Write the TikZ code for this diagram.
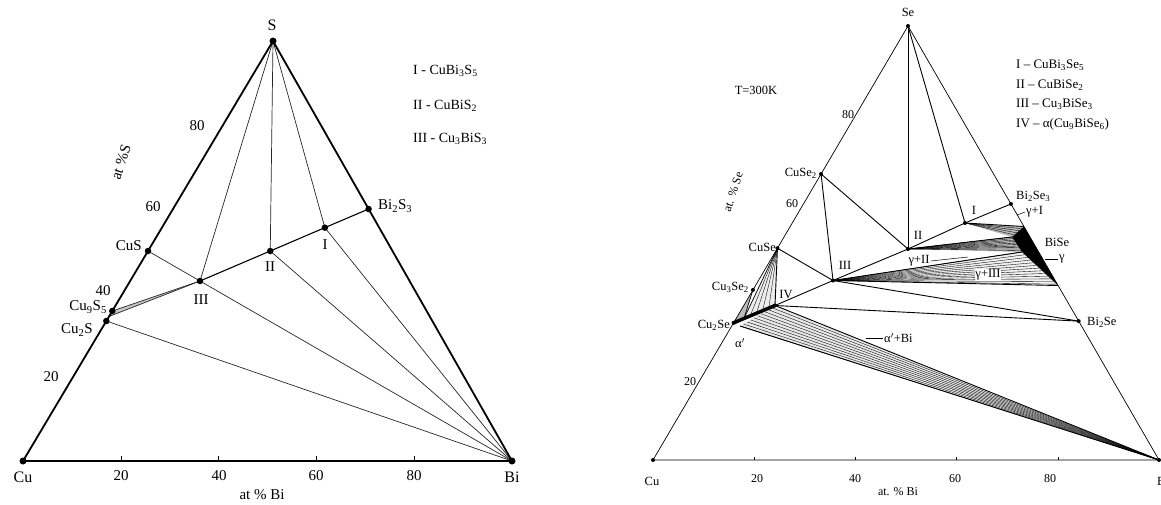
\documentclass[tikz,border=0pt]{standalone}
\usepackage{fontspec}
\setmainfont{Liberation Serif}
\usetikzlibrary{calc}
\newcommand\sbs[1]{\textsubscript{#1}}
\begin{document}
\begin{tikzpicture}[x=1pt,y=-1pt,
  bigdot/.style={circle,fill=black,inner sep=0pt,minimum size=7pt},
  smalldot/.style={circle,fill=black,inner sep=0pt,minimum size=4pt},
  corner/.style={font=\fontsize{16}{16}\selectfont,inner sep=1pt},
  llab/.style={font=\fontsize{15}{15}\selectfont,inner sep=1pt},
  rlab/.style={font=\fontsize{12.5}{12.5}\selectfont,inner sep=1pt},
  rnum/.style={font=\fontsize{12}{12}\selectfont,inner sep=1pt},
  legl/.style={font=\fontsize{14}{14}\selectfont,anchor=west,inner sep=0pt},
  legr/.style={font=\fontsize{13}{13}\selectfont,anchor=west,inner sep=0pt},
  frameL/.style={line width=1.8pt,line join=miter},
  tieL/.style={line width=0.7pt,black!85},
  joinL/.style={line width=1.1pt},
  frameR/.style={line width=0.7pt},
  tieR/.style={line width=0.9pt},
  hatch/.style={line width=0.35pt},
  leader/.style={line width=0.5pt},
  tick/.style={line width=0.6pt}
]
\useasboundingbox (0,0) rectangle (1161,504);

%================ LEFT: Cu-Bi-S =================
\coordinate (Cu) at (23,461);
\coordinate (Bi) at (512,461);
\coordinate (S) at (273,41);
\coordinate (CuS) at (barycentric cs:Cu=1,S=1);
\coordinate (Cu9S5) at (barycentric cs:Cu=9,S=5);
\coordinate (Cu2S) at (barycentric cs:Cu=2,S=1);
\coordinate (Bi2S3) at (barycentric cs:Bi=2,S=3);
\coordinate (pI) at (barycentric cs:Cu=1,Bi=3,S=5);
\coordinate (pII) at (barycentric cs:Cu=1,Bi=1,S=2);
\coordinate (pIII) at (barycentric cs:Cu=3,Bi=1,S=3);
\coordinate (band) at ($(Cu9S5)!0.55!(Cu2S)$);

% narrow two-phase band
\fill[gray!45] (Cu9S5) -- (pIII) -- (band) -- cycle;
\draw[tieL] (Cu9S5) -- (pIII);
\draw[tieL] (band) -- (pIII);

\draw[tieL] (S) -- (pIII);
\draw[tieL] (S) -- (pII);
\draw[tieL] (S) -- (pI);
\draw[tieL] (CuS) -- (pIII);
\draw[tieL] (Cu2S) -- (Bi);
\draw[tieL] (pIII) -- (Bi);
\draw[tieL] (pII) -- (Bi);
\draw[tieL] (pI) -- (Bi);
\draw[joinL] (pIII) -- (pII) -- (pI) -- (Bi2S3);
\draw[frameL] (Cu) -- (Bi) -- (S) -- cycle;

\foreach \f in {0.2,0.4,0.6,0.8}
  \draw[tick] ($(Cu)!\f!(Bi)$) -- ++(0,-5);

\foreach \p in {S,Cu,Bi}
  \node[bigdot] (d\p) at (\p) {};
\foreach \p in {CuS,Cu9S5,Cu2S,Bi2S3,pI,pII,pIII}
  \node[bigdot,minimum size=6.5pt] (d\p) at (\p) {};

\node[corner] (tS) at (272,25) {S};
\node[corner] (tCu) at (23,477) {Cu};
\node[corner] (tBi) at (512,477) {Bi};
\node[llab] (b20) at (121,476) {20};
\node[llab] (b40) at (219,476) {40};
\node[llab] (b60) at (316,476) {60};
\node[llab] (b80) at (414,476) {80};
\node[llab] (bax) at (262,495) {at \% Bi};
\node[llab] (l80) at (197,126) {80};
\node[llab] (l60) at (153,207) {60};
\node[llab] (l40) at (103,291) {40};
\node[llab] (l20) at (51,377) {20};
\node[llab,rotate=72] (lax) at (121,162) {at \%S};
\node[llab,anchor=east] (tCuS) at (143,246) {CuS};
\node[llab,anchor=east] (tCu9S5) at (108,307) {Cu\sbs{9}S\sbs{5}};
\node[llab,anchor=east] (tCu2S) at (94,330) {Cu\sbs{2}S};
\node[llab,anchor=west] (tBi2S3) at (377,206) {Bi\sbs{2}S\sbs{3}};
\node[llab] (tI) at (325,245) {I};
\node[llab] (tII) at (270,267) {II};
\node[llab] (tIII) at (201,300) {III};
\node[legl] (lg1) at (413,71) {I - CuBi\sbs{3}S\sbs{5}};
\node[legl] (lg2) at (413,106) {II - CuBiS\sbs{2}};
\node[legl] (lg3) at (413,139) {III - Cu\sbs{3}BiS\sbs{3}};

%================ RIGHT: Cu-Bi-Se =================
\coordinate (Cu2) at (653,460);
\coordinate (Bi2) at (1159,460);
\coordinate (Se) at (908,26);
\coordinate (CuSe2) at ($(Cu2)!0.659!(Se)$);
\coordinate (CuSe) at ($(Cu2)!0.488!(Se)$);
\coordinate (Cu3Se2) at ($(Cu2)!0.392!(Se)$);
\coordinate (Cu2Se) at ($(Cu2)!0.316!(Se)$);
\coordinate (Bi2Se3) at ($(Bi2)!0.59!(Se)$);
\coordinate (Bi2Se) at ($(Bi2)!0.32!(Se)$);
\coordinate (gT) at ($(Bi2)!0.538!(Se)$);
\coordinate (gB) at ($(Bi2)!0.402!(Se)$);
\coordinate (gI1) at (1012,237);
\coordinate (gI2) at (1022,252);
\coordinate (rI) at (965,223);
\coordinate (rII) at (908,249);
\coordinate (rIII) at (833,280.5);
\coordinate (rIV) at (775,305.5);
\coordinate (aL) at (740,326);
\coordinate (aM) at ($(Cu2Se)!0.25!(rIV)$);

% alpha'+Bi region
\fill[gray!18] (aL) -- (rIV) -- (Bi2) -- cycle;
\foreach \t in {0,0.1,...,1.0}
  \draw[hatch] ($(aL)!\t!(rIV)$) -- (Bi2);
\draw[tieR] (aL) -- (Bi2);
\draw[tieR] (rIV) -- (Bi2);

% CuSe + alpha' and Cu3Se2 regions
\fill[gray!55] (Cu3Se2) -- (Cu2Se) -- (aM) -- cycle;
\fill[gray!15] (CuSe) -- (aM) -- (rIV) -- cycle;
\foreach \t in {0.4,0.55,0.7,0.85}
  \draw[hatch] (CuSe) -- ($(Cu2Se)!\t!(rIV)$);
\draw[line width=0.7pt] (CuSe) -- (aM);
\draw[line width=0.7pt] (Cu3Se2) -- (aM);

% gamma + I
\fill[gray!55] (rI) -- (gT) -- (gI1) -- cycle;
\foreach \t in {0.2,0.4,...,0.9}
  \draw[hatch] (rI) -- ($(gT)!\t!(gI1)$);
% gamma + II
\fill[gray!50] (rII) -- (gI1) -- (gI2) -- cycle;
\foreach \t in {0,0.1,...,1.0}
  \draw[hatch] (rII) -- ($(gI1)!\t!(gI2)$);
% gamma + III
\fill[gray!12] (rIII) -- (gI2) -- (gB) -- cycle;
\foreach \t in {0,0.08,...,1.0}
  \draw[hatch] (rIII) -- ($(gI2)!\t!(gB)$);
% gamma phase
\fill (gT) -- (gB) -- (gI2) -- (gI1) -- cycle;

% tie lines
\draw[tieR] (Se) -- (rII);
\draw[tieR] (Se) -- (rI);
\draw[tieR] (CuSe2) -- (rII);
\draw[tieR] (CuSe2) -- (rIII);
\draw[tieR] (CuSe) -- (rIII);
\draw[tieR] (CuSe) -- (rIV);
\draw[tieR] (rIV) -- (rIII) -- (rII) -- (rI) -- (Bi2Se3);
\draw[tieR] (rIV) -- (Bi2Se);
\draw[tieR] (rIII) -- (Bi2Se);
\draw[tieR] (rIII) -- (gB);
\draw[tieR] (rIII) -- (gI2);
\draw[tieR] (rII) -- (gI1);
\draw[tieR] (rI) -- (gT);
\draw[line width=3.5pt] (Cu2Se) -- (rIV);

\draw[frameR] (Cu2) -- (Bi2) -- (Se) -- cycle;
\foreach \f in {0.2,0.4,0.6,0.8}
  \draw[tick,line width=0.5pt] ($(Cu2)!\f!(Bi2)$) -- ++(0,-3);

\foreach \p in {Se,Cu2,Bi2,CuSe2,CuSe,Cu3Se2,Cu2Se,rIV,rIII,rII,rI,Bi2Se3,Bi2Se}
  \node[smalldot] (d\p) at (\p) {};

% right labels
\node[rlab] (tSe) at (908,12) {Se};
\node[rlab,anchor=east] (tCuSe2) at (818,173) {CuSe\sbs{2}};
\node[rlab,anchor=east] (tCuSe) at (777,247) {CuSe};
\node[rlab,anchor=east] (tCu3Se2) at (750,287) {Cu\sbs{3}Se\sbs{2}};
\node[rlab,anchor=east] (tCu2Se) at (731,325) {Cu\sbs{2}Se};
\node[rlab] (talpha) at (740,343) {α$'$};
\node[rlab] (tIV) at (786,294) {IV};
\node[rlab] (trIII) at (845,265) {III};
\node[rlab] (trII) at (918,235) {II};
\node[rlab] (trI) at (974,210) {I};
\node[rlab,anchor=west] (tBi2Se3) at (1015,196) {Bi\sbs{2}Se\sbs{3}};
\node[rlab,anchor=west] (tBi2Se) at (1086,322) {Bi\sbs{2}Se};
\node[rlab] (tBiSe) at (1057,242) {BiSe};

\coordinate (ldgI) at (1017,215);
\node[rlab,anchor=west] (tgI) at (1025,212) {γ+I};
\draw[leader] (ldgI) -- (tgI.west);
\coordinate (ldg) at (1045,259);
\node[rlab,anchor=west] (tg) at (1058,259) {γ};
\draw[leader] (ldg) -- (tg.west);
\node[rlab] (tgII) at (919,261) {γ+II};
\coordinate (ldgII) at (968,257);
\draw[leader] (tgII.east) -- (ldgII);
\node[rlab,fill=white,inner sep=0.5pt] (tgIII) at (988,275) {γ+III};
\coordinate (ldaB) at (866,338);
\node[rlab,anchor=west] (taB) at (883,338) {α$'$+Bi};
\draw[leader] (ldaB) -- (taB.west);

\node[rlab] (tT) at (756,90) {T=300K};
\node[rnum] (r80) at (848,115) {80};
\node[rnum] (r60) at (792,204) {60};
\node[rnum] (r20) at (690,382) {20};
\node[rnum,rotate=72] (rax) at (733,192) {at. \% Se};
\node[rlab] (tCu2) at (652,481) {Cu};
\node[rlab,anchor=west] (tBi2) at (1156,481) {Bi};
\node[rnum] (rb20) at (757,479) {20};
\node[rnum] (rb40) at (855,479) {40};
\node[rnum] (rb60) at (955,479) {60};
\node[rnum] (rb80) at (1050,479) {80};
\node[rnum] (rbax) at (898,492) {at. \% Bi};

\node[legr] (rg1) at (1016,65) {I – CuBi\sbs{3}Se\sbs{5}};
\node[legr] (rg2) at (1016,85) {II – CuBiSe\sbs{2}};
\node[legr] (rg3) at (1016,104) {III – Cu\sbs{3}BiSe\sbs{3}};
\node[legr] (rg4) at (1016,124) {IV – α(Cu\sbs{9}BiSe\sbs{6})};
\end{tikzpicture}
\end{document}
